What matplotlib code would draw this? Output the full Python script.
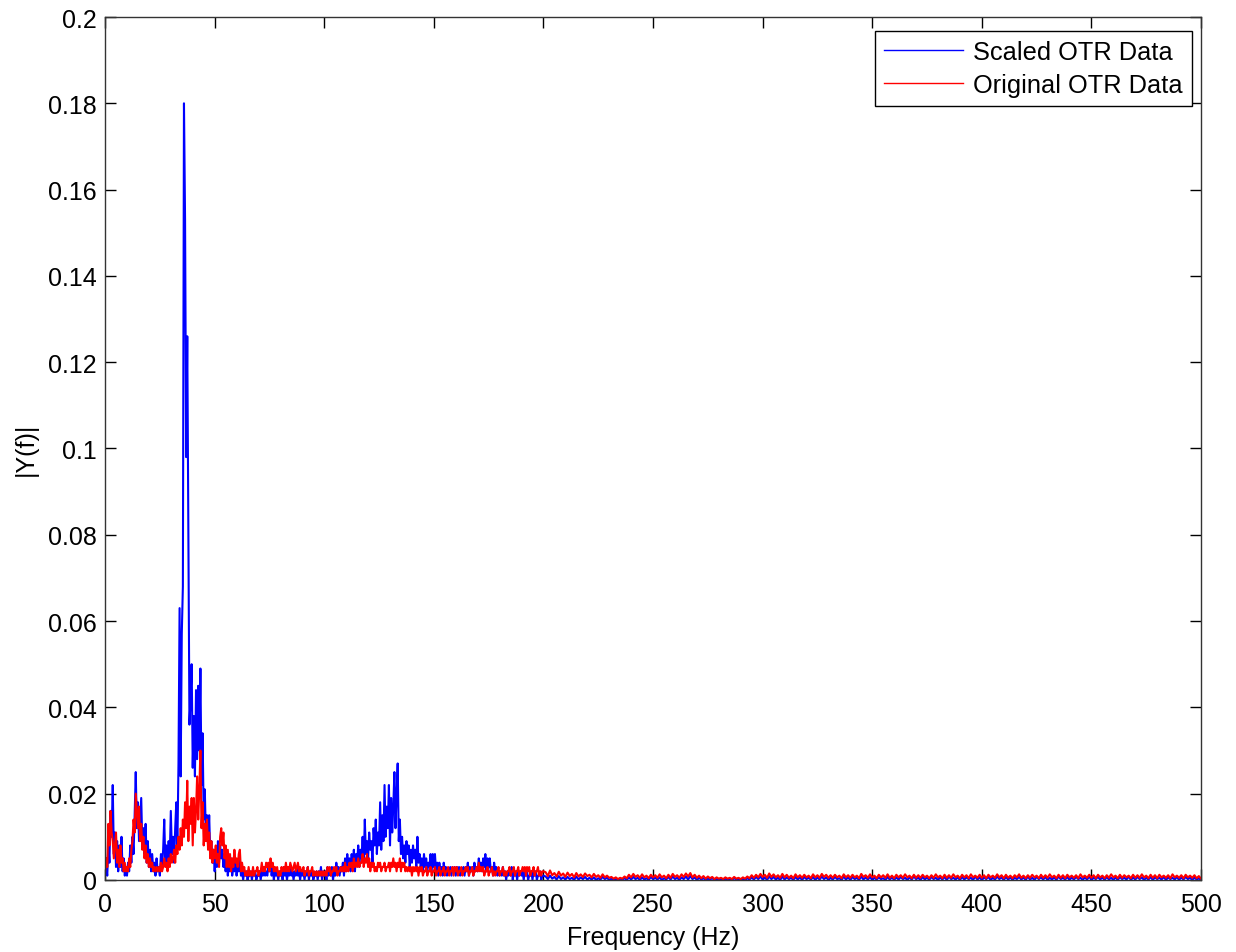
import numpy as np
import matplotlib
matplotlib.use('Agg')
import matplotlib.pyplot as plt

# Spectrum 0-200 Hz, 0.5 Hz bins, values in units of 1e-3
blue_low = [
    1, 3, 1, 8, 4, 16, 10, 22, 6, 11, 3, 9, 2, 8, 3, 10, 2, 5, 1, 3,
    1, 4, 2, 8, 4, 10, 6, 15, 25, 12, 18, 9, 14, 19, 8, 12, 6, 13, 4, 9,
    3, 7, 2, 6, 2, 4, 1, 5, 2, 3, 1, 6, 3, 7, 14, 4, 8, 3, 9, 5,
    16, 6, 10, 4, 12, 18, 8, 27, 63, 24, 57, 68, 180, 153, 98, 126, 81, 36, 42, 50,
    26, 38, 24, 44, 28, 45, 30, 49, 22, 34, 14, 21, 10, 15, 8, 15, 6, 9, 4, 7,
    2, 6, 3, 9, 4, 8, 5, 7, 3, 6, 2, 5, 1, 4, 2, 5, 1, 3, 2, 4,
    1, 3, 2, 5, 1, 2, 0, 2, 1, 2, 0, 1, 1, 2, 0, 2, 1, 2, 0, 1,
    1, 2, 0, 2, 1, 3, 1, 2, 1, 3, 2, 4, 1, 3, 0, 2, 1, 2, 0, 2,
    1, 2, 0, 3, 1, 2, 0, 2, 1, 3, 1, 2, 0, 2, 1, 3, 1, 2, 0, 2,
    1, 2, 0, 2, 1, 3, 0, 2, 1, 2, 0, 1, 1, 2, 0, 2, 1, 3, 0, 2,
    1, 2, 0, 3, 1, 2, 1, 3, 0, 2, 1, 4, 2, 3, 1, 3, 2, 4, 1, 5,
    2, 6, 3, 5, 2, 6, 3, 7, 2, 6, 4, 8, 3, 7, 5, 10, 4, 14, 6, 9,
    5, 11, 7, 9, 4, 12, 8, 14, 6, 11, 8, 18, 7, 15, 9, 22, 10, 17, 12, 22,
    8, 19, 11, 17, 25, 12, 20, 27, 9, 14, 6, 10, 5, 8, 4, 9, 6, 8, 3, 7,
    4, 8, 5, 7, 3, 10, 4, 6, 3, 5, 2, 6, 3, 5, 2, 4, 3, 6, 2, 6,
    3, 6, 2, 4, 1, 4, 2, 3, 1, 4, 2, 3, 1, 2, 2, 3, 1, 3, 2, 3,
    1, 3, 2, 3, 1, 2, 2, 3, 1, 3, 2, 4, 1, 3, 2, 3, 1, 4, 2, 3,
    2, 5, 3, 4, 2, 5, 3, 6, 2, 5, 3, 5, 2, 3, 1, 4, 2, 3, 1, 2,
    1, 2, 1, 3, 1, 2, 0, 2, 1, 2, 1, 3, 0, 2, 1, 2, 0, 2, 1, 2,
    1, 2, 0, 2, 1, 2, 0, 1, 1, 2, 0, 2, 1, 2, 0, 1, 1, 2, 0, 1,
    1,
]

red_low = [
    2, 5, 3, 13, 8, 16, 11, 9, 5, 8, 11, 4, 7, 3, 8, 4, 5, 2, 4, 2,
    3, 2, 5, 3, 7, 9, 14, 11, 20, 16, 12, 17, 9, 13, 7, 10, 5, 8, 4, 6,
    3, 5, 3, 4, 2, 3, 2, 3, 2, 3, 2, 4, 2, 3, 5, 3, 4, 2, 5, 3,
    6, 4, 5, 7, 4, 8, 6, 10, 7, 12, 8, 14, 10, 18, 12, 23, 9, 17, 13, 19,
    8, 19, 11, 16, 24, 14, 21, 30, 12, 18, 8, 13, 9, 14, 7, 11, 5, 9, 4, 7,
    5, 8, 4, 6, 3, 10, 12, 8, 11, 5, 8, 3, 7, 3, 6, 2, 5, 3, 7, 4,
    5, 3, 6, 7, 2, 4, 2, 3, 1, 2, 1, 3, 1, 2, 1, 3, 1, 2, 2, 3,
    1, 2, 2, 4, 2, 3, 2, 4, 3, 4, 2, 5, 3, 4, 2, 3, 2, 3, 1, 2,
    1, 3, 2, 3, 2, 4, 2, 3, 2, 4, 3, 2, 3, 4, 2, 3, 4, 2, 3, 2,
    2, 3, 1, 2, 2, 3, 1, 2, 2, 3, 1, 2, 1, 2, 1, 2, 1, 2, 1, 2,
    1, 2, 1, 3, 2, 3, 1, 2, 2, 3, 2, 3, 1, 2, 2, 3, 2, 3, 2, 4,
    2, 3, 2, 4, 3, 4, 2, 5, 3, 4, 3, 5, 3, 4, 4, 6, 3, 5, 4, 6,
    3, 5, 2, 4, 3, 4, 2, 3, 2, 4, 3, 4, 2, 3, 3, 4, 2, 3, 3, 4,
    2, 4, 3, 5, 3, 4, 2, 4, 3, 5, 2, 4, 3, 4, 2, 3, 2, 3, 2, 3,
    1, 3, 2, 3, 2, 3, 1, 3, 2, 3, 1, 2, 2, 3, 1, 2, 2, 3, 1, 2,
    2, 3, 1, 2, 2, 3, 1, 2, 2, 3, 1, 2, 2, 3, 1, 2, 2, 3, 1, 3,
    2, 3, 1, 2, 2, 3, 1, 2, 2, 3, 2, 3, 1, 2, 2, 3, 1, 2, 2, 3,
    2, 4, 2, 3, 2, 3, 1, 2, 2, 3, 1, 2, 2, 3, 1, 2, 1, 2, 2, 3,
    1, 2, 2, 3, 1, 2, 1, 2, 2, 3, 1, 2, 2, 3, 1, 2, 2, 3, 1, 2,
    2, 3, 2, 3, 1, 3, 2, 3, 1, 2, 2, 3, 1, 2, 2, 3, 1, 2, 1, 2,
    2,
]

# Spectrum 201-500 Hz, 1 Hz bins, values in units of 1e-4
blue_high = [
    8, 2, 10, 3, 7, 1, 9, 2, 6, 1, 7, 2, 5, 0, 8, 1, 6, 2, 7, 1,
    5, 1, 6, 0, 4, 1, 7, 2, 5, 0, 3, 0, 2, 0, 3, 1, 4, 0, 6, 1,
    7, 2, 5, 0, 6, 1, 4, 0, 7, 2, 5, 1, 6, 0, 4, 1, 7, 1, 8, 2,
    5, 0, 6, 2, 8, 1, 9, 2, 6, 0, 5, 1, 4, 0, 3, 1, 4, 0, 2, 0,
    2, 0, 3, 1, 2, 0, 4, 1, 2, 0, 3, 0, 4, 1, 6, 1, 7, 2, 8, 1,
    6, 0, 8, 2, 7, 1, 5, 0, 8, 1, 6, 2, 5, 0, 7, 1, 6, 0, 7, 2,
    5, 1, 7, 0, 6, 1, 8, 2, 6, 0, 5, 1, 7, 2, 4, 0, 8, 1, 6, 0,
    7, 2, 5, 0, 8, 1, 6, 1, 7, 0, 5, 1, 6, 2, 4, 0, 7, 1, 6, 0,
    6, 1, 7, 2, 5, 0, 6, 1, 8, 2, 5, 0, 7, 1, 6, 0, 7, 2, 5, 0,
    6, 1, 7, 0, 8, 2, 5, 1, 6, 0, 7, 1, 6, 2, 5, 0, 8, 1, 6, 0,
    6, 2, 7, 0, 5, 1, 8, 2, 6, 0, 7, 1, 6, 0, 5, 2, 7, 1, 6, 0,
    8, 1, 5, 0, 7, 2, 6, 1, 7, 0, 5, 1, 6, 0, 8, 2, 5, 1, 7, 0,
    6, 1, 7, 2, 5, 0, 6, 1, 8, 0, 5, 2, 7, 1, 6, 0, 7, 1, 5, 0,
    6, 0, 7, 2, 5, 1, 8, 0, 6, 1, 7, 2, 6, 0, 5, 1, 7, 0, 6, 2,
    5, 1, 7, 0, 6, 2, 5, 1, 7, 0, 6, 1, 7, 2, 5, 0, 6, 1, 4, 0,
]

red_high = [
    18, 9, 22, 11, 16, 8, 19, 10, 15, 7, 17, 9, 14, 6, 16, 8, 13, 7, 15, 9,
    12, 6, 14, 7, 11, 5, 13, 6, 10, 5, 7, 3, 6, 2, 5, 3, 8, 4, 12, 6,
    14, 7, 11, 5, 13, 6, 10, 4, 12, 6, 11, 5, 13, 6, 10, 4, 12, 5, 14, 7,
    11, 5, 13, 7, 15, 8, 16, 6, 12, 5, 10, 4, 9, 3, 8, 4, 7, 2, 6, 3,
    5, 2, 6, 3, 5, 2, 7, 3, 5, 2, 6, 3, 8, 4, 11, 5, 12, 6, 14, 7,
    12, 5, 15, 7, 13, 6, 11, 5, 14, 6, 12, 5, 10, 4, 13, 6, 11, 5, 12, 6,
    10, 4, 13, 6, 11, 5, 14, 7, 12, 5, 11, 5, 12, 6, 10, 4, 13, 6, 11, 5,
    12, 6, 10, 4, 14, 7, 11, 5, 13, 6, 10, 4, 12, 6, 11, 5, 13, 5, 10, 4,
    12, 6, 11, 5, 13, 6, 10, 4, 12, 5, 11, 5, 12, 6, 10, 4, 11, 5, 13, 6,
    10, 4, 12, 5, 11, 5, 13, 6, 10, 4, 12, 6, 11, 4, 13, 6, 10, 5, 12, 5,
    11, 4, 12, 6, 10, 5, 13, 6, 11, 4, 12, 5, 10, 4, 11, 6, 13, 5, 10, 4,
    11, 5, 12, 6, 10, 4, 12, 5, 11, 5, 13, 6, 10, 4, 12, 5, 11, 4, 12, 6,
    10, 5, 11, 4, 13, 6, 10, 5, 12, 5, 11, 4, 12, 6, 10, 4, 11, 5, 13, 6,
    10, 4, 12, 5, 11, 6, 10, 4, 12, 5, 11, 5, 13, 6, 10, 4, 12, 5, 11, 4,
    12, 6, 10, 5, 11, 4, 13, 6, 10, 5, 11, 4, 12, 6, 10, 5, 11, 4, 9, 3,
]

freq_low = np.arange(len(blue_low)) * 0.5
freq_high = 201 + np.arange(len(blue_high))

freq = np.concatenate([freq_low, freq_high])
scaled = np.concatenate([np.array(blue_low) / 1e3, np.array(blue_high) / 1e4])
original = np.concatenate([np.array(red_low) / 1e3, np.array(red_high) / 1e4])

plt.rcParams['font.family'] = ['Liberation Sans', 'DejaVu Sans']

fig = plt.figure(figsize=(12.36, 9.53), dpi=100)
ax = fig.add_axes([0.0850, 0.0756, 0.8867, 0.9055])

ax.plot(freq, scaled, color='#0000ff', lw=1.5, label='Scaled OTR Data')
ax.plot(freq, original, color='#ff0000', lw=1.5, label='Original OTR Data')

ax.set_xlim(0, 500)
ax.set_ylim(0, 0.2)
ax.set_xticks(np.arange(0, 501, 50))
ax.set_yticks(np.arange(0, 0.2001, 0.02))
ax.set_yticklabels(['0', '0.02', '0.04', '0.06', '0.08', '0.1',
                    '0.12', '0.14', '0.16', '0.18', '0.2'])
ax.tick_params(direction='in', length=8, width=1, top=True, right=True,
               labelsize=18, colors='black')
ax.tick_params(axis='x', pad=9)
ax.tick_params(axis='y', pad=6)
for s in ax.spines.values():
    s.set_linewidth(1.0)
    s.set_color('#333333')

ax.set_xlabel('Frequency (Hz)', fontsize=18, labelpad=6)
ax.set_ylabel('|Y(f)|', fontsize=18, labelpad=7)

leg = ax.legend(loc='upper right', bbox_to_anchor=(0.9918, 0.9838),
                borderaxespad=0, fontsize=18.3, frameon=True, fancybox=False,
                framealpha=1, edgecolor='black', handlelength=3.1,
                handletextpad=0.4, labelspacing=0.32, borderpad=0.37)
leg.get_frame().set_linewidth(1.0)
for line in leg.get_lines():
    line.set_linewidth(1.0)

fig.savefig('out.png', dpi=100)
